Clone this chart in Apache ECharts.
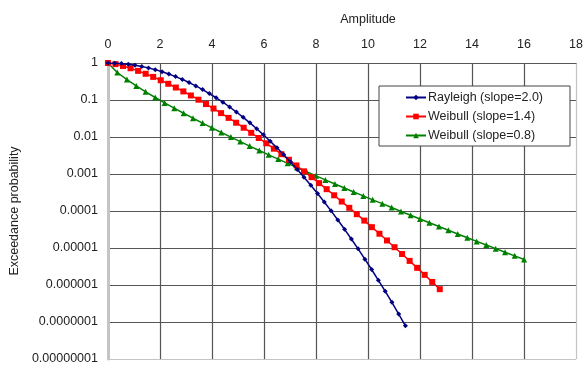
<!DOCTYPE html>
<html>
<head>
<meta charset="utf-8">
<script src="https://cdn.jsdelivr.net/npm/echarts@6/dist/echarts.min.js"></script>
<style>
html,body{margin:0;padding:0;background:#fff;}
#chart{width:586px;height:369px;}
</style>
</head>
<body>
<div id="chart"></div>
<script>
// Tick labels
const xTicks = [0, 2, 4, 6, 8, 10, 12, 14, 16, 18];
const yTickLabels = ['1', '0.1', '0.01', '0.001', '0.0001', '0.00001', '0.000001', '0.0000001', '0.00000001'];

// Series names
const seriesNames = ['Rayleigh (slope=2.0)', 'Weibull (slope=1.4)', 'Weibull (slope=0.8)'];

// Rayleigh (slope=2.0)
const rayleighX = [0, 0.26, 0.52, 0.78, 1.04, 1.30, 1.56, 1.82, 2.08, 2.34, 2.60, 2.86, 3.12, 3.38, 3.64, 3.90, 4.16, 4.42, 4.68, 4.94, 5.20, 5.46, 5.72, 5.98, 6.24, 6.50, 6.76, 7.02, 7.28, 7.54, 7.80, 8.06, 8.32, 8.58, 8.84, 9.10, 9.36, 9.62, 9.88, 10.14, 10.40, 10.66, 10.92, 11.18, 11.44];
const rayleighY = [1, 0.9916, 0.9668, 0.9268, 0.8735, 0.8096, 0.7377, 0.6610, 0.5823, 0.5044, 0.4296, 0.3597, 0.2962, 0.2398, 0.1909, 0.1494, 0.1150, 0.0870, 0.0647, 0.0473, 0.0340, 0.0241, 0.0167, 0.01145, 0.00770, 0.00509, 0.00330, 0.00211, 0.00133, 8.2e-4, 4.98e-4, 2.97e-4, 1.75e-4, 1.01e-4, 5.7e-5, 3.2e-5, 1.75e-5, 9.5e-6, 5.0e-6, 2.62e-6, 1.34e-6, 6.8e-7, 3.4e-7, 1.64e-7, 7.9e-8];

// Weibull (slope=1.4)
const weibull14X = [0, 0.29, 0.58, 0.87, 1.16, 1.45, 1.74, 2.03, 2.32, 2.61, 2.90, 3.19, 3.48, 3.77, 4.06, 4.35, 4.64, 4.93, 5.22, 5.51, 5.80, 6.09, 6.38, 6.67, 6.96, 7.25, 7.54, 7.83, 8.12, 8.41, 8.70, 8.99, 9.28, 9.57, 9.86, 10.15, 10.44, 10.73, 11.02, 11.31, 11.60, 11.89, 12.18, 12.47, 12.76];
const weibull14Y = [1, 0.932, 0.8304, 0.7205, 0.6125, 0.5117, 0.4211, 0.3419, 0.2742, 0.2174, 0.1706, 0.1326, 0.1020, 0.0778, 0.0588, 0.0442, 0.0329, 0.0243, 0.0178, 0.01297, 0.00940, 0.00676, 0.00483, 0.00343, 0.00242, 0.00170, 0.00118, 8.22e-4, 5.67e-4, 3.89e-4, 2.66e-4, 1.80e-4, 1.22e-4, 8.20e-5, 5.50e-5, 3.66e-5, 2.43e-5, 1.60e-5, 1.05e-5, 6.88e-6, 4.48e-6, 2.91e-6, 1.88e-6, 1.21e-6, 7.7e-7];

// Weibull (slope=0.8)
const weibull08X = [0, 0.36, 0.73, 1.09, 1.45, 1.82, 2.18, 2.55, 2.91, 3.27, 3.64, 4.00, 4.36, 4.73, 5.09, 5.45, 5.82, 6.18, 6.55, 6.91, 7.27, 7.64, 8.00, 8.36, 8.73, 9.09, 9.45, 9.82, 10.18, 10.55, 10.91, 11.27, 11.64, 12.00, 12.36, 12.73, 13.09, 13.45, 13.82, 14.18, 14.55, 14.91, 15.27, 15.64, 16.00];
const weibull08Y = [1, 0.5531, 0.3566, 0.2402, 0.1661, 0.1169, 0.0835, 0.0603, 0.0439, 0.0322, 0.0238, 0.0177, 0.01326, 0.00996, 0.00751, 0.00569, 0.00433, 0.00330, 0.00253, 0.00194, 0.00149, 0.00115, 8.93e-4, 6.92e-4, 5.38e-4, 4.19e-4, 3.27e-4, 2.56e-4, 2.00e-4, 1.58e-4, 1.24e-4, 9.73e-5, 7.67e-5, 6.06e-5, 4.80e-5, 3.80e-5, 3.01e-5, 2.39e-5, 1.90e-5, 1.51e-5, 1.21e-5, 9.61e-6, 7.67e-6, 6.13e-6, 4.91e-6];

const pairs = (xs, ys) => xs.map((x, i) => [x, ys[i]]);

const font = 'Liberation Sans, Arial, sans-serif';
const gridDark = '#555';
const gridLight = '#c4c4c4';
const fs = 12.5;

const chart = echarts.init(document.getElementById('chart'), null, {renderer: 'canvas'});
chart.setOption({
  animation: false,
  backgroundColor: '#fff',
  textStyle: {fontFamily: font},
  title: {
    text: 'Amplitude',
    left: 363, top: 8,
    textAlign: 'center',
    textStyle: {fontSize: fs, fontWeight: 'normal', color: '#222', fontFamily: font}
  },
  grid: {left: 106, right: 8, top: 63, bottom: 10, containLabel: false},
  legend: {
    orient: 'vertical',
    left: 379, top: 86,
    padding: [5, 27, 4, 26],
    itemGap: 6,
    itemWidth: 20, itemHeight: 7,
    backgroundColor: '#fff',
    borderColor: '#444', borderWidth: 1,
    textStyle: {fontSize: fs, color: '#222', fontFamily: font, padding: [0, 0, 0, -3]},
    data: seriesNames
  },
  xAxis: {
    type: 'value',
    position: 'top',
    min: xTicks[0], max: xTicks[xTicks.length - 1], interval: 2,
    axisLine: {show: true, lineStyle: {color: gridDark, width: 1}},
    axisTick: {show: false},
    axisLabel: {fontSize: fs, color: '#222', margin: 12, fontFamily: font},
    splitLine: {show: true, lineStyle: {color: [gridLight, gridDark, gridDark, gridDark, gridDark, gridDark, gridDark, gridDark, gridDark, gridLight], width: 1.2}}
  },
  yAxis: {
    type: 'log',
    logBase: 10,
    min: 1e-8, max: 1,
    name: 'Exceedance probability',
    nameLocation: 'middle',
    nameGap: 84,
    nameRotate: 90,
    nameTextStyle: {fontSize: fs, color: '#222', fontFamily: font},
    axisLine: {show: true, lineStyle: {color: gridLight, width: 3}},
    axisTick: {show: false},
    axisLabel: {
      fontSize: fs, color: '#222', margin: 10, fontFamily: font,
      formatter: v => yTickLabels[Math.round(-Math.log10(v))]
    },
    splitLine: {show: true, lineStyle: {color: [gridLight, gridDark, gridDark, gridDark, gridDark, gridDark, gridDark, gridDark, gridDark], width: 1.2}}
  },
  series: [
    {
      name: seriesNames[0], type: 'line',
      data: pairs(rayleighX, rayleighY),
      symbol: 'diamond', symbolSize: 5,
      lineStyle: {color: '#000080', width: 1.5},
      itemStyle: {color: '#000080'},
      z: 4
    },
    {
      name: seriesNames[1], type: 'line',
      data: pairs(weibull14X, weibull14Y),
      symbol: 'rect', symbolSize: 6,
      lineStyle: {color: '#ff0000', width: 1.5},
      itemStyle: {color: '#ff0000'},
      z: 3
    },
    {
      name: seriesNames[2], type: 'line',
      data: pairs(weibull08X, weibull08Y),
      symbol: 'triangle', symbolSize: 6,
      lineStyle: {color: '#008000', width: 1.5},
      itemStyle: {color: '#008000'},
      z: 2
    }
  ]
});
</script>
</body>
</html>
